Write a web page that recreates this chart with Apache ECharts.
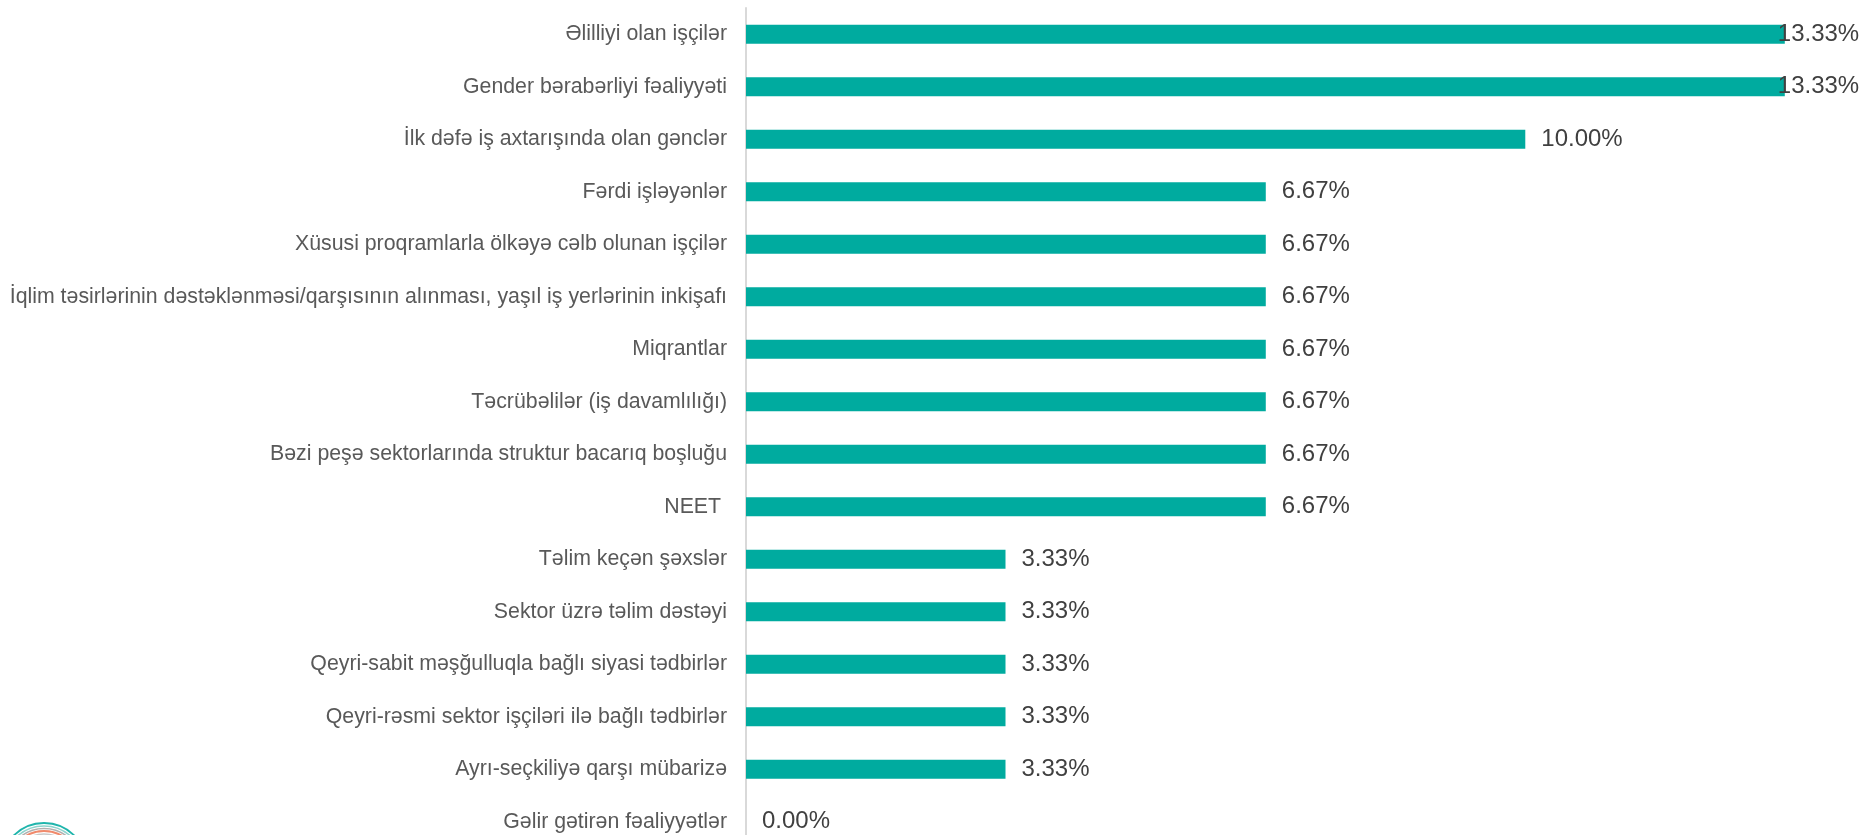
<!DOCTYPE html>
<html>
<head>
    <meta charset="utf-8">
    <title>myECharts</title>
    <script src="https://cdn.jsdelivr.net/npm/echarts@6/dist/echarts.min.js"></script>
</head>
<body style="margin:0">
    <div id="main" style="width:1862px;height:835px;"></div>

    <script type="text/javascript">
// kateqoriyalar (yuxarıdan aşağı)
var categories = [
    'Əlilliyi olan işçilər',
    'Gender bərabərliyi fəaliyyəti',
    'İlk dəfə iş axtarışında olan gənclər',
    'Fərdi işləyənlər',
    'Xüsusi proqramlarla ölkəyə cəlb olunan işçilər',
    'İqlim təsirlərinin dəstəklənməsi/qarşısının alınması, yaşıl iş yerlərinin inkişafı',
    'Miqrantlar',
    'Təcrübəlilər (iş davamlılığı)',
    'Bəzi peşə sektorlarında struktur bacarıq boşluğu',
    'NEET ',
    'Təlim keçən şəxslər',
    'Sektor üzrə təlim dəstəyi',
    'Qeyri-sabit məşğulluqla bağlı siyasi tədbirlər',
    'Qeyri-rəsmi sektor işçiləri ilə bağlı tədbirlər',
    'Ayrı-seçkiliyə qarşı mübarizə',
    'Gəlir gətirən fəaliyyətlər'
];
// faiz
var values = [13.33, 13.33, 10.00, 6.67, 6.67, 6.67, 6.67, 6.67, 6.67, 6.67, 3.33, 3.33, 3.33, 3.33, 3.33, 0];

var chart = echarts.init(document.getElementById('main'));

var font = "'Liberation Sans', Arial, sans-serif";

var option = {
    animation: false,
    backgroundColor: '#ffffff',
    grid: {
        left: 746,
        top: 8,
        width: 1091,
        height: 840,
        outerBoundsMode: 'none',
        containLabel: false
    },
    xAxis: {
        type: 'value',
        min: 0,
        max: 14,
        show: false
    },
    yAxis: {
        type: 'category',
        data: categories,
        inverse: true,
        axisLine: { show: true, lineStyle: { color: '#d9d9d9', width: 2 } },
        axisTick: { show: false },
        axisLabel: {
            margin: 19,
            fontSize: 21.3,
            color: '#595959',
            fontFamily: font
        }
    },
    series: [{
        type: 'bar',
        barWidth: 19,
        itemStyle: { color: '#00ab9f' },
        label: {
            show: true,
            position: 'right',
            distance: 16,
            fontSize: 24,
            color: '#404040',
            fontFamily: font,
            formatter: function (p) { return p.value.toFixed(2) + '%'; }
        },
        // kənara çıxan etiketlər bir az sola sürüşür
        data: values.map(function (v) {
            return v > 12 ? { value: v, label: { distance: -7 } } : v;
        })
    }],
    graphic: [
        { type: 'circle', shape: { cx: 44, cy: 866, r: 43 }, style: { fill: null, stroke: '#1fb5ac', lineWidth: 2 } },
        { type: 'circle', shape: { cx: 44, cy: 866, r: 40 }, style: { fill: null, stroke: '#8fd3cd', lineWidth: 1.5 } },
        { type: 'circle', shape: { cx: 44, cy: 866, r: 37.5 }, style: { fill: null, stroke: '#b0b0b0', lineWidth: 1.5 } },
        { type: 'circle', shape: { cx: 44, cy: 866, r: 35 }, style: { fill: null, stroke: '#f08a6c', lineWidth: 2 } },
        { type: 'circle', shape: { cx: 44, cy: 866, r: 32 }, style: { fill: null, stroke: '#c8c8c8', lineWidth: 1.5 } }
    ]
};

chart.setOption(option);
    </script>
</body>
</html>
